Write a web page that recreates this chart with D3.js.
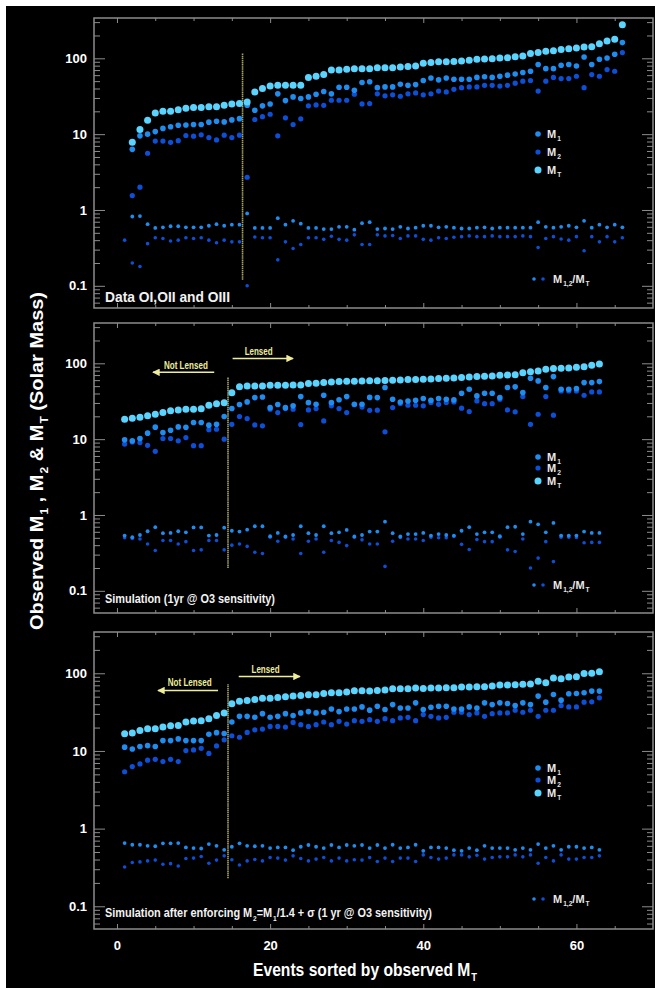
<!DOCTYPE html>
<meta charset="utf-8">
<html>
<script src="https://d3js.org/d3.v7.min.js"></script>
<style>
  body { margin: 0; background: #fff; }
  text { font-family: "Liberation Sans", Arial, sans-serif; font-weight: bold; }
</style>
<body>
<div id="chart"></div>
<script>

// event number (sorted by observed M_T)
const events1 = d3.range(1, 67);
const events2 = d3.range(1, 64);
const events3 = d3.range(1, 64);

// panel 1 : data OI, OII and OIII
const p1MT = [null, 7.8, 11.5, 15.3, 19, 20, 20, 21, 22, 22.5, 22.5, 23, 23, 24, 25, 25.3, 26.6, 36, 40, 43, 44, 44, 44, 44, 56, 58, 61, 70, 70, 72, 73, 73, 73, 75, 75, 75, 77, 78, 79, 86, 88, 90, 90, 91, 92, 94, 97, 98, 99, 101, 102, 105, 107, 116, 119, 124, 126, 131, 134, 137, 141, 142, 156, 169, 178, 277];
const p1M1 = [null, 6.3, 9.5, 10, 10.8, 11.9, 12.5, 13.1, 13.2, 13.4, 13.4, 14.4, 14.8, 14.5, 15.4, 16, 24, 20.7, 23.6, 25, 34, 27.7, 31, 29.5, 31, 33.6, 36.5, 34, 41.5, 41.5, 38, 48, 49, 41, 42, 42, 45.5, 44, 45, 51, 55, 52, 55, 53, 53, 53, 56, 57, 56, 58, 60, 62, 65, 67.5, 83, 73, 73, 81, 83, 79, 104, 83, 97, 101, 113, 161];
const p1M2 = [null, 1.55, 2.0, 5.6, 8.1, 8.1, 7.8, 8.2, 9.6, 9.4, 9.8, 9.0, 8.4, 9.7, 9.0, 9.7, 2.7, 15.6, 17, 18.3, 9.5, 16.4, 13.4, 15.9, 23.6, 24.3, 24, 28, 28, 28, 33.6, 25, 25.3, 34, 32, 33, 31.6, 34, 35, 33, 34, 37, 36, 39, 41, 42, 42, 44, 44, 43, 44, 47, 50, 51, 37, 50, 56, 54, 54, 58, 41, 61, 58, 71, 67.5, 119];
const p1R1 = [null, 0.82, 0.83, 0.65, 0.58, 0.59, 0.61, 0.61, 0.59, 0.59, 0.59, 0.62, 0.65, 0.62, 0.64, 0.64, 0.9, 0.58, 0.58, 0.58, 0.78, 0.64, 0.72, 0.66, 0.58, 0.58, 0.56, 0.56, 0.6, 0.6, 0.55, 0.67, 0.69, 0.56, 0.57, 0.56, 0.6, 0.57, 0.585, 0.62, 0.62, 0.59, 0.6, 0.585, 0.57, 0.57, 0.585, 0.59, 0.57, 0.585, 0.585, 0.585, 0.585, 0.585, 0.69, 0.6, 0.585, 0.6, 0.62, 0.59, 0.72, 0.585, 0.64, 0.59, 0.64, 0.59];
const p1R2 = [0.4, 0.2, 0.18, 0.36, 0.43, 0.42, 0.39, 0.4, 0.43, 0.42, 0.43, 0.4, 0.37, 0.4, 0.38, 0.38, 0.1, 0.44, 0.43, 0.43, 0.22, 0.38, 0.31, 0.35, 0.43, 0.43, 0.41, 0.45, 0.41, 0.4, 0.47, 0.35, 0.35, 0.47, 0.455, 0.46, 0.42, 0.455, 0.455, 0.41, 0.4, 0.43, 0.42, 0.437, 0.445, 0.455, 0.445, 0.445, 0.455, 0.445, 0.445, 0.445, 0.455, 0.445, 0.32, 0.42, 0.445, 0.415, 0.40, 0.445, 0.29, 0.445, 0.38, 0.445, 0.38, 0.43];

// panel 2 : simulation (1yr @ O3)
const p2MT = [18.3, 18.9, 19.5, 20.3, 21.3, 22.4, 23.6, 24.3, 24.8, 24.8, 25.1, 28, 29.2, 30.3, 41, 48.9, 50.3, 50.3, 50.3, 51.4, 51.4, 51.4, 51.9, 51.9, 54, 54.6, 55.7, 56.8, 57.4, 58, 58.2, 58.6, 58.8, 59, 59.4, 59.8, 60.3, 61, 61, 61.6, 62.2, 62.9, 63.5, 64.2, 64.8, 66.1, 66.8, 67.5, 68.1, 69.5, 70.2, 70.9, 75.3, 77.6, 79.2, 83.4, 85.1, 86, 86.8, 88.6, 90.4, 94.2, 98];
const p2M1 = [9.8, 9.5, 10.2, 12, 14.4, 12.2, 13.1, 14.5, 14.3, 16.6, 16.6, 15.3, 15.7, 19.9, 25.3, 28.6, 31, 35.3, 36, 26, 28.6, 26, 27.5, 36.4, 30.3, 28.9, 38, 30.3, 33, 36.4, 28.9, 28.9, 35.5, 35.3, 47.9, 33.6, 30.8, 31.9, 32.6, 34.3, 32.6, 34.3, 33.6, 32.9, 40.3, 45.5, 37.2, 40.3, 40.3, 35.3, 47.9, 48.9, 41.1, 63.5, 58.6, 47.9, 66.8, 45.5, 45.5, 46.4, 55.7, 55.7, 57.4];
const p2M2 = [8.6, 9.2, 9.0, 8.3, 6.9, 10.2, 10.2, 9.5, 10.5, 8.2, 8.2, 13.3, 13.5, 10, 15.7, 19.9, 18.7, 15.4, 15, 24.8, 22.4, 25.3, 24.8, 15.6, 24.3, 25.3, 17.4, 27.5, 25.3, 22.4, 28.4, 26.5, 24, 24.1, 12.5, 26.1, 29.6, 28, 28, 27.5, 30.4, 28.8, 30.4, 31, 25.6, 23.1, 31.9, 29.4, 29.4, 33.6, 24.3, 22.9, 36.4, 15.7, 21.3, 36.4, 20.7, 43.2, 43.2, 43.2, 37.9, 42, 42];
const p2R1 = [0.535, 0.51, 0.545, 0.61, 0.69, 0.575, 0.58, 0.61, 0.59, 0.685, 0.685, 0.535, 0.545, 0.68, 0.62, 0.605, 0.64, 0.71, 0.71, 0.525, 0.58, 0.52, 0.545, 0.71, 0.575, 0.545, 0.71, 0.575, 0.59, 0.635, 0.52, 0.545, 0.605, 0.605, 0.817, 0.575, 0.52, 0.56, 0.56, 0.58, 0.535, 0.56, 0.545, 0.535, 0.62, 0.69, 0.56, 0.59, 0.59, 0.525, 0.69, 0.70, 0.56, 0.817, 0.753, 0.59, 0.785, 0.535, 0.535, 0.535, 0.605, 0.58, 0.58];
const p2R2 = [0.50, 0.49, 0.483, 0.415, 0.34, 0.46, 0.46, 0.415, 0.445, 0.34, 0.347, 0.46, 0.46, 0.347, 0.40, 0.415, 0.385, 0.323, 0.31, 0.51, 0.45, 0.51, 0.483, 0.31, 0.45, 0.483, 0.323, 0.46, 0.435, 0.395, 0.51, 0.47, 0.415, 0.415, 0.21, 0.45, 0.505, 0.483, 0.483, 0.46, 0.51, 0.50, 0.50, 0.52, 0.41, 0.35, 0.475, 0.445, 0.445, 0.51, 0.347, 0.33, 0.483, 0.20, 0.27, 0.445, 0.243, 0.51, 0.51, 0.505, 0.43, 0.435, 0.435];

// panel 3 : simulation after enforcing M2 = M1/1.4 + sigma
const p3MT = [16.6, 17, 18.4, 19.3, 19.3, 20.3, 21.1, 21.3, 23.6, 24.3, 24.5, 26, 28.5, 30.9, 40.4, 43.7, 44.6, 45.9, 47.8, 47.8, 48.8, 49.8, 50.8, 51.8, 52.9, 52.9, 55, 56.1, 56.1, 57.3, 59.6, 59.6, 59, 60.1, 60.8, 63.2, 63.2, 63.2, 64.5, 63.8, 64.5, 64.5, 65.2, 65.2, 66.5, 66.5, 67.1, 67.1, 68.5, 70.5, 70.5, 71.3, 72, 72.7, 78.7, 75.7, 86.9, 85.1, 89.5, 90.5, 99, 100, 105];
const p3M1 = [11.2, 10.6, 11.4, 11.7, 11.4, 13.6, 13.6, 14.3, 13.6, 13.6, 13.6, 16.4, 17.2, 16.8, 23.6, 27.9, 27.9, 27.1, 30.2, 27.1, 27.9, 30.2, 28.5, 30.9, 32.1, 30.9, 31.5, 34.7, 32.1, 34.7, 34.7, 36.9, 33.5, 37.6, 34.1, 39.5, 35.8, 35.8, 41.6, 34.1, 36.5, 37.6, 37.6, 34.7, 34.7, 36.9, 35.8, 41.6, 39.5, 41.6, 40.8, 38.4, 41.6, 39.5, 50.8, 42.5, 53.3, 45.1, 54.4, 55, 56.1, 59, 59];
const p3M2 = [5.4, 6.3, 6.8, 7.6, 7.8, 7.3, 7.8, 7.3, 10.1, 10.3, 10.8, 9.3, 11.6, 13.9, 15.7, 15, 17.3, 18.7, 19.1, 20.7, 20.7, 20.3, 23.3, 21.8, 20.7, 21.8, 23.6, 21.8, 24.1, 22.2, 24.5, 24.1, 25.3, 24.1, 26, 24.5, 26.6, 27.1, 24.5, 29.4, 27.9, 26.6, 27.1, 31.5, 31.5, 29.4, 30.9, 27.9, 30.2, 30.9, 30.9, 33.4, 31.5, 33.4, 27.9, 33.4, 33.4, 38.4, 36.9, 36.9, 42.5, 42.9, 48.3];
const p3R1 = [0.652, 0.62, 0.62, 0.60, 0.593, 0.646, 0.646, 0.652, 0.572, 0.561, 0.555, 0.633, 0.60, 0.533, 0.584, 0.646, 0.60, 0.593, 0.60, 0.561, 0.572, 0.572, 0.528, 0.584, 0.615, 0.584, 0.561, 0.615, 0.572, 0.615, 0.60, 0.615, 0.561, 0.615, 0.561, 0.62, 0.561, 0.572, 0.62, 0.518, 0.572, 0.572, 0.561, 0.528, 0.518, 0.561, 0.528, 0.60, 0.561, 0.561, 0.561, 0.533, 0.561, 0.533, 0.633, 0.561, 0.60, 0.533, 0.584, 0.584, 0.561, 0.572, 0.533];
const p3R2 = [0.32, 0.366, 0.373, 0.384, 0.393, 0.348, 0.354, 0.33, 0.413, 0.417, 0.437, 0.358, 0.393, 0.446, 0.397, 0.34, 0.384, 0.40, 0.384, 0.425, 0.417, 0.393, 0.446, 0.413, 0.384, 0.405, 0.425, 0.384, 0.417, 0.384, 0.397, 0.393, 0.425, 0.377, 0.417, 0.377, 0.417, 0.417, 0.377, 0.459, 0.425, 0.405, 0.417, 0.459, 0.459, 0.433, 0.455, 0.405, 0.425, 0.433, 0.433, 0.459, 0.433, 0.459, 0.358, 0.425, 0.384, 0.459, 0.405, 0.405, 0.425, 0.425, 0.446];

// axis ticks
const xTicks = [0, 20, 40, 60];
const yTicks = [0.1, 1, 10, 100];

const width = 655, height = 988;
const colMT = "#5ad4ff", colM1 = "#1f8df0", colM2 = "#0c50da";
const frameCol = "#8c8c8c";
const yellow = "#eeee9a";

const svg = d3.select("#chart").append("svg")
    .attr("width", width)
    .attr("height", height);

svg.append("rect")
    .attr("x", 6).attr("y", 6)
    .attr("width", width - 6).attr("height", height - 6)
    .attr("fill", "#000");

const x = d3.scaleLinear().domain([-3, 70]).range([94, 653]);

const panels = [
  {top: 18, bottom: 308, ev: events1, mt: p1MT, m1: p1M1, m2: p1M2, r1: p1R1, r2: p1R2,
   cut: 16.4, cutY: [0.12, 116], legY: [134, 152, 170], legR: 279,
   caption: [["Data OI,OII and OIII"]], capY: 302, capSize: 15, capLen: 125, lensed: null},
  {top: 323, bottom: 613, ev: events2, mt: p2MT, m1: p2M1, m2: p2M2, r1: p2R1, r2: p2R2,
   cut: 14.5, cutY: [0.2, 65], legY: [457, 468, 481], legR: 585,
   caption: [["Simulation (1yr @ O3 sensitivity)"]], capY: 603, capSize: 12.5, capLen: 170,
   lensed: {nl: [12.7, 4.7, 76], nlText: [9.0, 94], l: [15.1, 23, 116], lText: [18.5, 145]}},
  {top: 632, bottom: 929, ev: events3, mt: p3MT, m1: p3M1, m2: p3M2, r1: p3R1, r2: p3R2,
   cut: 14.5, cutY: [0.23, 72], legY: [768, 780, 793], legR: 899,
   caption: [["Simulation after enforcing M"], ["2", "sub"], ["=M"], ["1", "sub"], ["/1.4 + \u03c3 (1 yr @ O3 sensitivity)"]],
   capY: 917, capSize: 12.5, capLen: 327,
   lensed: {nl: [13.2, 5.35, 60], nlText: [9.5, 76], l: [15.9, 23.9, 91], lText: [19.4, 113]}}
];

// arrow head
svg.append("defs").append("marker")
    .attr("id", "arrow")
    .attr("viewBox", "0 0 10 10")
    .attr("refX", 9).attr("refY", 5)
    .attr("markerWidth", 5).attr("markerHeight", 5)
    .attr("orient", "auto")
  .append("path")
    .attr("d", "M0,0L10,5L0,10z")
    .attr("fill", yellow);

// text with subscripts (dy shifts carried over to the next piece)
function richText(sel, parts, size) {
  let shift = 0;
  parts.forEach(p => {
    const t = sel.append("tspan").text(p[0]);
    const target = p[1] === "sub" ? size * 0.3 : 0;
    if (target !== shift) t.attr("dy", target - shift);
    shift = target;
    if (p[1] === "sub") t.attr("font-size", size * 0.6).attr("dx", 1);
  });
}

panels.forEach((p, k) => {
  const y = d3.scaleLog().domain([0.051, 340]).range([p.bottom, p.top]);
  const g = svg.append("g");

  const minor = y.ticks().filter(d => !yTicks.some(m => Math.abs(d / m - 1) < 1e-6));
  const minorX = d3.range(0, 70, 5).filter(d => !xTicks.includes(d));

  // y axes, ticks pointing inside
  g.append("g")
    .attr("transform", `translate(${x.range()[0]},0)`)
    .attr("color", frameCol)
    .call(d3.axisLeft(y).tickValues(yTicks).tickSize(-11).tickPadding(7).tickFormat(d3.format("~g")))
    .call(a => a.select(".domain").remove())
    .call(a => a.selectAll("text").attr("fill", "#fff").attr("font-size", 13));
  g.append("g")
    .attr("transform", `translate(${x.range()[0]},0)`)
    .attr("color", frameCol)
    .call(d3.axisLeft(y).tickValues(minor).tickSize(-6).tickFormat(""))
    .call(a => a.select(".domain").remove());
  g.append("g")
    .attr("transform", `translate(${x.range()[1]},0)`)
    .attr("color", frameCol)
    .call(d3.axisRight(y).tickValues(yTicks).tickSize(-11).tickFormat(""))
    .call(a => a.select(".domain").remove());
  g.append("g")
    .attr("transform", `translate(${x.range()[1]},0)`)
    .attr("color", frameCol)
    .call(d3.axisRight(y).tickValues(minor).tickSize(-6).tickFormat(""))
    .call(a => a.select(".domain").remove());

  // x axes
  g.append("g")
    .attr("transform", `translate(0,${p.top})`)
    .attr("color", frameCol)
    .call(d3.axisTop(x).tickValues(xTicks).tickSize(-5).tickFormat(""))
    .call(a => a.select(".domain").remove());
  g.append("g")
    .attr("transform", `translate(0,${p.top})`)
    .attr("color", frameCol)
    .call(d3.axisTop(x).tickValues(minorX).tickSize(-3).tickFormat(""))
    .call(a => a.select(".domain").remove());
  g.append("g")
    .attr("transform", `translate(0,${p.bottom})`)
    .attr("color", frameCol)
    .call(d3.axisBottom(x).tickValues(xTicks).tickSize(-5).tickPadding(12)
      .tickFormat(k === 2 ? d3.format("d") : ""))
    .call(a => a.select(".domain").remove())
    .call(a => a.selectAll("text").attr("fill", "#fff").attr("font-size", 13));
  g.append("g")
    .attr("transform", `translate(0,${p.bottom})`)
    .attr("color", frameCol)
    .call(d3.axisBottom(x).tickValues(minorX).tickSize(-3).tickFormat(""))
    .call(a => a.select(".domain").remove());

  // frame
  g.append("rect")
    .attr("x", x.range()[0]).attr("y", p.top)
    .attr("width", x.range()[1] - x.range()[0]).attr("height", p.bottom - p.top)
    .attr("fill", "none").attr("stroke", frameCol).attr("stroke-width", 1.5);

  // lensed / not lensed cut
  g.append("line")
    .attr("x1", x(p.cut)).attr("x2", x(p.cut))
    .attr("y1", y(p.cutY[0])).attr("y2", y(p.cutY[1]))
    .attr("stroke", "#a8a45c").attr("stroke-width", 1.6)
    .attr("stroke-dasharray", "1.5,0.6");

  if (p.lensed) {
    const L = p.lensed;
    g.append("line")
      .attr("x1", x(L.nl[0])).attr("x2", x(L.nl[1]))
      .attr("y1", y(L.nl[2])).attr("y2", y(L.nl[2]))
      .attr("stroke", yellow).attr("stroke-width", 1.5)
      .attr("marker-end", "url(#arrow)");
    g.append("line")
      .attr("x1", x(L.l[0])).attr("x2", x(L.l[1]))
      .attr("y1", y(L.l[2])).attr("y2", y(L.l[2]))
      .attr("stroke", yellow).attr("stroke-width", 1.5)
      .attr("marker-end", "url(#arrow)");
    g.append("text")
      .attr("x", x(L.nlText[0])).attr("y", y(L.nlText[1]))
      .attr("dy", "0.35em").attr("text-anchor", "middle")
      .attr("fill", yellow).attr("font-size", 10)
      .attr("textLength", 44).attr("lengthAdjust", "spacingAndGlyphs")
      .text("Not Lensed");
    g.append("text")
      .attr("x", x(L.lText[0])).attr("y", y(L.lText[1]))
      .attr("dy", "0.35em").attr("text-anchor", "middle")
      .attr("fill", yellow).attr("font-size", 10)
      .attr("textLength", 28).attr("lengthAdjust", "spacingAndGlyphs")
      .text("Lensed");
  }

  // points
  const series = [
    {vals: p.r2, col: colM2, r: 1.8},
    {vals: p.r1, col: colM1, r: 1.9},
    {vals: p.m2, col: colM2, r: 2.6},
    {vals: p.m1, col: colM1, r: 2.8},
    {vals: p.mt, col: colMT, r: 3.5}
  ];
  series.forEach(s => {
    g.append("g").selectAll("circle")
      .data(p.ev.map((e, i) => ({e: e, v: s.vals[i]})).filter(d => d.v != null))
      .join("circle")
        .attr("cx", d => x(d.e))
        .attr("cy", d => y(d.v))
        .attr("r", s.r)
        .attr("fill", s.col);
  });

  // legend
  const legX = 538;
  const leg = [
    {lab: [["M"], ["1", "sub"]], col: colM1, r: 2.8},
    {lab: [["M"], ["2", "sub"]], col: colM2, r: 2.6},
    {lab: [["M"], ["T", "sub"]], col: colMT, r: 3.5}
  ];
  leg.forEach((l, i) => {
    g.append("circle").attr("cx", legX).attr("cy", p.legY[i]).attr("r", l.r).attr("fill", l.col);
    const t = g.append("text")
      .attr("x", legX + 9).attr("y", p.legY[i] + 4)
      .attr("fill", "#e8e8e8").attr("font-size", 11);
    richText(t, l.lab, 11);
  });
  g.append("circle").attr("cx", legX - 4).attr("cy", p.legR).attr("r", 1.8).attr("fill", colM1);
  g.append("circle").attr("cx", legX + 5).attr("cy", p.legR).attr("r", 1.8).attr("fill", colM2);
  const tr = g.append("text")
    .attr("x", legX + 15).attr("y", p.legR + 4)
    .attr("fill", "#e8e8e8").attr("font-size", 11);
  richText(tr, [["M"], ["1,2", "sub"], ["/M"], ["T", "sub"]], 11);

  // caption
  const cap = g.append("text")
    .attr("x", 105).attr("y", p.capY)
    .attr("fill", "#f2f2f2").attr("font-size", p.capSize)
    .attr("textLength", p.capLen).attr("lengthAdjust", "spacingAndGlyphs");
  richText(cap, p.caption, p.capSize);
});

// axis titles
const xt = svg.append("text")
    .attr("x", 253).attr("y", 976)
    .attr("fill", "#fff").attr("font-size", 18)
    .attr("textLength", 224).attr("lengthAdjust", "spacingAndGlyphs");
richText(xt, [["Events sorted by observed M"], ["T", "sub"]], 18);

const yt = svg.append("text")
    .attr("transform", "translate(43,630) rotate(-90)")
    .attr("fill", "#fff").attr("font-size", 18)
    .attr("textLength", 338).attr("lengthAdjust", "spacingAndGlyphs");
richText(yt, [["Observed M"], ["1", "sub"], [" , M"], ["2", "sub"], [" & M"], ["T", "sub"], [" (Solar Mass)"]], 18);

</script>
</body>
</html>
